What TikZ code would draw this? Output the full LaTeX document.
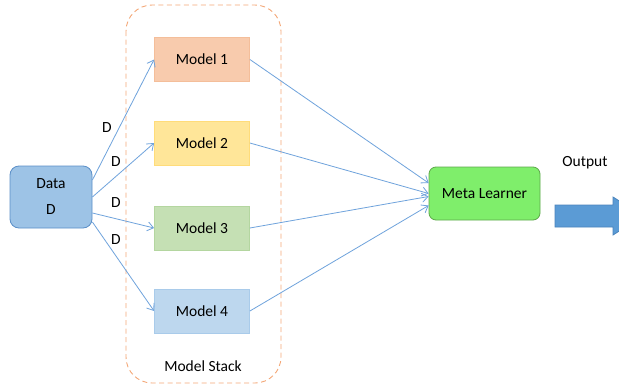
\documentclass[tikz,border=0pt]{standalone}
\usepackage{fontspec}
\setmainfont{Carlito}
\usetikzlibrary{arrows.meta}
\definecolor{datafill}{HTML}{9DC3E6}
\definecolor{databorder}{HTML}{5B8FC8}
\definecolor{mAfill}{HTML}{F8CBAD}
\definecolor{mAborder}{HTML}{F4BE9A}
\definecolor{mBfill}{HTML}{FFE699}
\definecolor{mBborder}{HTML}{FFDC7A}
\definecolor{mCfill}{HTML}{C5E0B4}
\definecolor{mCborder}{HTML}{B4D6A0}
\definecolor{mDfill}{HTML}{BDD7EE}
\definecolor{mDborder}{HTML}{A9CBEA}
\definecolor{metafill}{HTML}{7FEE6B}
\definecolor{metaborder}{HTML}{5FA84C}
\definecolor{linkcol}{HTML}{6FA3DC}
\definecolor{stackcol}{HTML}{F4A878}
\definecolor{outfill}{HTML}{5B9BD5}
\definecolor{outborder}{HTML}{4A84BC}
\tikzset{
  base/.style={font=\fontsize{15.5}{18}\selectfont, text=black, inner sep=0pt, line width=0.8pt},
  modelbox/.style={base, rectangle, minimum width=95pt, minimum height=44pt},
  link/.style={draw=linkcol, line width=0.8pt, -{Straight Barb[length=6pt,width=9pt]}},
  dlabel/.style={font=\fontsize{15.5}{18}\selectfont, text=black, inner sep=0pt},
}
\begin{document}
\begin{tikzpicture}[x=1pt,y=-1pt]
\path[clip] (0,0) rectangle (619,386);
\useasboundingbox (0,0) rectangle (619,386);
\fill[white] (0,0) rectangle (619,386);

% model stack frame
\draw[stackcol, line width=0.9pt, dash pattern=on 5pt off 3.5pt, rounded corners=26pt] (126,5) rectangle (281,383);
\node[dlabel] (stack) at (203,366) {Model Stack};

% nodes
\node[base, rectangle, rounded corners=9pt, fill=datafill, draw=databorder, minimum width=82pt, minimum height=62pt, align=center] (data) at (51,197) {Data\\[8pt]D};
\node[modelbox, fill=mAfill, draw=mAborder] (m1) at (202,59.5) {Model 1};
\node[modelbox, fill=mBfill, draw=mBborder] (m2) at (202,143) {Model 2};
\node[modelbox, fill=mCfill, draw=mCborder] (m3) at (202,228) {Model 3};
\node[modelbox, fill=mDfill, draw=mDborder] (m4) at (202,311) {Model 4};
\node[base, rectangle, rounded corners=7pt, fill=metafill, draw=metaborder, minimum width=111pt, minimum height=53pt] (meta) at (484.5,193.5) {Meta Learner};

% data -> models
\draw[link] ([yshift=17pt]data.east) -- (m1.west);
\draw[link] ([yshift=0pt]data.east) -- (m2.west);
\draw[link] ([yshift=-16pt]data.east) -- (m3.west);
\draw[link] ([yshift=-25pt]data.east) -- (m4.west);

% D labels
\node[dlabel] (d1) at (107,128) {D};
\node[dlabel] (d2) at (116,162) {D};
\node[dlabel] (d3) at (116,203) {D};
\node[dlabel] (d4) at (116,240) {D};

% models -> meta
\draw[link] (m1.east) -- ([yshift=10.5pt]meta.west);
\draw[link] (m2.east) -- ([yshift=0pt]meta.west);
\draw[link] (m3.east) -- ([yshift=-3pt]meta.west);
\draw[link] (m4.east) -- ([yshift=-12pt]meta.west);

% output arrow
\coordinate (outstart) at (555,194);
\draw[fill=outfill, draw=outborder, line width=0.8pt]
  ([yshift=-11pt]outstart) -- ++(58,0) -- ++(0,-8) -- ++(30,19) -- ++(-30,19) -- ++(0,-8) -- ++(-58,0) -- cycle;
\node[dlabel] (outlabel) at (585,163) {Output};
\end{tikzpicture}
\end{document}
